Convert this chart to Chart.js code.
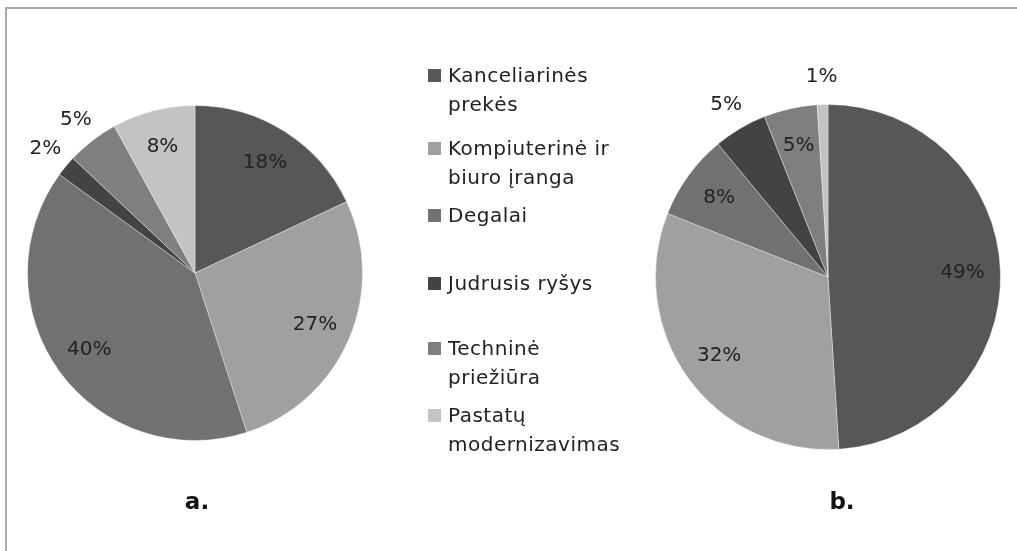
<!DOCTYPE html>
<html>
<head>
<meta charset="utf-8">
<script src="https://cdn.jsdelivr.net/npm/chart.js@4/dist/chart.umd.min.js"></script>
<style>
html, body { margin: 0; padding: 0; background: #fff; }
#wrap { position: relative; width: 1017px; height: 551px; overflow: hidden; font-family: "DejaVu Sans", sans-serif; }
#frame { position: absolute; left: 5px; top: 7px; right: -10px; bottom: -10px; border-top: 2px solid #aaaaaa; border-left: 2px solid #aaaaaa; }
canvas { position: absolute; left: 0; top: 0; }
#legend { position: absolute; left: 428px; top: 0; }
.item { position: absolute; left: 0; width: 210px; }
.box { position: absolute; left: 0; top: 8px; width: 13px; height: 13px; }
.txt { position: absolute; left: 20px; width: 186px; font-size: 20px; line-height: 29px; color: #222; letter-spacing: 0.5px; }
.cap { position: absolute; top: 488px; width: 60px; text-align: center; font-weight: bold; font-size: 23px; color: #111; }
</style>
</head>
<body>
<div id="wrap">
  <div id="frame"></div>
  <canvas id="pieA" width="1017" height="551"></canvas>
  <canvas id="pieB" width="1017" height="551"></canvas>
  <div id="legend"></div>
  <div class="cap" style="left:167px">a.</div>
  <div class="cap" style="left:812px">b.</div>
</div>
<script>
// kategooriad ja osakaalud (%)
const categories = ['Kanceliarinės prekės', 'Kompiuterinė ir biuro įranga', 'Degalai', 'Judrusis ryšys', 'Techninė priežiūra', 'Pastatų modernizavimas'];
const valuesA = [18, 27, 40, 2, 5, 8];
const valuesB = [49, 32, 8, 5, 5, 1];
const sliceColors = ['#575757', '#a0a0a0', '#717171', '#434343', '#7f7f7f', '#c3c3c3'];

// protsendid sektorite peale / vaikeste puhul väljapoole
const pctLabels = {
    id: 'pctLabels',
    afterDatasetsDraw(chart, args, opts) {
        const ctx = chart.ctx;
        const meta = chart.getDatasetMeta(0);
        const vals = chart.data.datasets[0].data;
        ctx.save();
        ctx.font = '20px "DejaVu Sans"';
        ctx.fillStyle = '#222';
        ctx.textAlign = 'center';
        ctx.textBaseline = 'middle';
        meta.data.forEach((arc, i) => {
            const p = arc.getProps(['x', 'y', 'startAngle', 'endAngle', 'outerRadius'], true);
            const mid = (p.startAngle + p.endAngle) / 2;
            const f = opts.outside.includes(i) ? 1.16 : 0.78;
            ctx.fillText(vals[i] + '%', p.x + Math.cos(mid) * p.outerRadius * f, p.y + Math.sin(mid) * p.outerRadius * f);
        });
        ctx.restore();
    }
};

function makePie(id, values, padding, outside) {
    return new Chart(document.getElementById(id), {
        type: 'pie',
        data: {
            labels: categories,
            datasets: [{
                data: values,
                backgroundColor: sliceColors,
                borderColor: 'rgba(255,255,255,0.35)',
                borderWidth: 1
            }]
        },
        options: {
            responsive: false,
            animation: false,
            layout: { padding: padding },
            plugins: {
                legend: { display: false },
                tooltip: { enabled: false },
                pctLabels: { outside: outside }
            }
        },
        plugins: [pctLabels]
    });
}

makePie('pieA', valuesA, { left: 27, top: 105, right: 654, bottom: 110 }, [3, 4]);
makePie('pieB', valuesB, { left: 655, top: 104, right: 16, bottom: 101 }, [3, 5]);

// legend keskel (HTML)
const legendTop = [61, 134, 201, 269, 334, 401];
const legend = document.getElementById('legend');
categories.forEach((c, i) => {
    const item = document.createElement('div');
    item.className = 'item';
    item.style.top = legendTop[i] + 'px';
    item.innerHTML = '<div class="box" style="background:' + sliceColors[i] + '"></div><div class="txt">' + c + '</div>';
    legend.appendChild(item);
});
</script>
</body>
</html>
